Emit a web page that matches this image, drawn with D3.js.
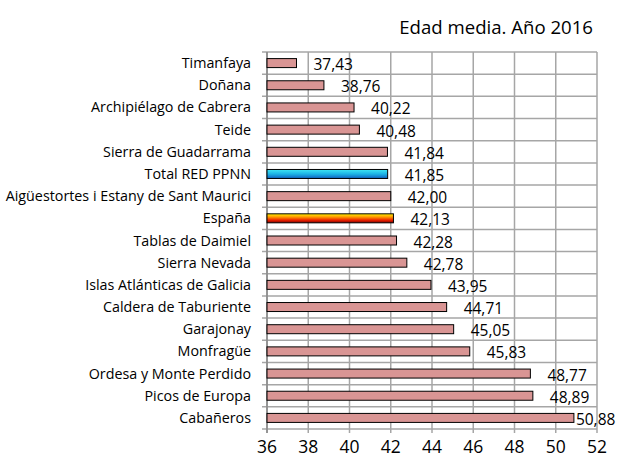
<!DOCTYPE html>
<html>
<head>
<meta charset="utf-8">
<script src="https://cdn.jsdelivr.net/npm/d3@7"></script>
<style>
  body { margin: 0; background: #fff; }
  svg { display: block; }
</style>
</head>
<body>
<div class="chart"></div>
<script>
let parques = [
  "Timanfaya", "Doñana", "Archipiélago de Cabrera", "Teide",
  "Sierra de Guadarrama", "Total RED PPNN", "Aigüestortes i Estany de Sant Maurici",
  "España", "Tablas de Daimiel", "Sierra Nevada", "Islas Atlánticas de Galicia",
  "Caldera de Taburiente", "Garajonay", "Monfragüe", "Ordesa y Monte Perdido",
  "Picos de Europa", "Cabañeros"
];
let edadMedia = [
  37.43, 38.76, 40.22, 40.48, 41.84, 41.85, 42.00, 42.13, 42.28, 42.78,
  43.95, 44.71, 45.05, 45.83, 48.77, 48.89, 50.88
];
let xTicks = [36, 38, 40, 42, 44, 46, 48, 50, 52];

let config = {
  width: 617,
  height: 460,
  left: 267,
  right: 597,
  top: 52,
  bottom: 429,
  chartRight: 611,
  font: '"Open Sans", "Noto Sans", sans-serif',
  barFill: '#d99594',
  gridColor: '#a6a6a6',
  barH: 9,
  labelGap: 17
};

let svg = d3.select('div.chart').append('svg')
  .attr('width', config.width)
  .attr('height', config.height);

let defs = svg.append('defs');

// degradados de las barras destacadas
let gradBlue = defs.append('linearGradient')
  .attr('id', 'gradBlue').attr('x1', 0).attr('y1', 0).attr('x2', 0).attr('y2', 1);
gradBlue.append('stop').attr('offset', '0%').attr('stop-color', '#40e6f2');
gradBlue.append('stop').attr('offset', '50%').attr('stop-color', '#1cb4e6');
gradBlue.append('stop').attr('offset', '100%').attr('stop-color', '#1060c0');

let gradFire = defs.append('linearGradient')
  .attr('id', 'gradFire').attr('x1', 0).attr('y1', 0).attr('x2', 0).attr('y2', 1);
gradFire.append('stop').attr('offset', '0%').attr('stop-color', '#fff200');
gradFire.append('stop').attr('offset', '35%').attr('stop-color', '#ff9900');
gradFire.append('stop').attr('offset', '70%').attr('stop-color', '#ee2200');
gradFire.append('stop').attr('offset', '100%').attr('stop-color', '#800000');

let x = d3.scaleLinear()
  .domain([36, 52])
  .range([config.left, config.right]);

let y = d3.scaleBand()
  .domain(parques)
  .range([config.top, config.bottom]);

let g = svg.append('g');

// rejilla vertical
g.selectAll('.vgrid')
  .data(xTicks)
  .enter().append('line')
  .attr('x1', d => x(d)).attr('x2', d => x(d))
  .attr('y1', config.top).attr('y2', config.bottom + 4)
  .attr('stroke', config.gridColor)
  .attr('stroke-width', 1.5);

// rejilla horizontal
let hLines = d3.range(parques.length + 1).map(i => config.top + i * y.step());
g.selectAll('.hgrid')
  .data(hLines)
  .enter().append('line')
  .attr('x1', config.left - 5).attr('x2', config.right)
  .attr('y1', d => d).attr('y2', d => d)
  .attr('stroke', config.gridColor)
  .attr('stroke-width', 1.5);

// eje izquierdo
g.append('line')
  .attr('x1', config.left).attr('x2', config.left)
  .attr('y1', config.top).attr('y2', config.bottom + 4)
  .attr('stroke', '#888').attr('stroke-width', 1.5);

g.selectAll('.bar')
  .data(edadMedia)
  .enter().append('rect')
  .attr('x', x(36))
  .attr('y', (d, i) => y(parques[i]) + y.bandwidth() / 2 - config.barH / 2)
  .attr('width', d => x(d) - x(36))
  .attr('height', config.barH)
  .attr('fill', (d, i) => {
    if (parques[i] === 'Total RED PPNN') return 'url(#gradBlue)';
    if (parques[i] === 'España') return 'url(#gradFire)';
    return config.barFill;
  })
  .attr('stroke', '#000')
  .attr('stroke-width', 1);

// etiquetas de valor (se ajustan para no salirse del gráfico)
let fmt = d => d.toFixed(2).replace('.', ',');
g.selectAll('.val')
  .data(edadMedia)
  .enter().append('text')
  .attr('y', (d, i) => y(parques[i]) + y.bandwidth() / 2 + 7)
  .attr('font-family', config.font)
  .attr('font-size', '15.5px')
  .attr('fill', '#000')
  .text(fmt)
  .attr('x', function(d) {
    let w = this.getComputedTextLength();
    let pos = Math.min(x(d) + config.labelGap, config.chartRight - w);
    return Math.max(pos, x(d) + 2);
  });

// categorías
g.selectAll('.cat')
  .data(parques)
  .enter().append('text')
  .attr('x', 251)
  .attr('y', d => y(d) + y.bandwidth() / 2 + 5)
  .attr('text-anchor', 'end')
  .attr('font-family', config.font)
  .attr('font-size', '14.3px')
  .attr('fill', '#000')
  .text(d => d);

// marcas del eje x
g.selectAll('.xlab')
  .data(xTicks)
  .enter().append('text')
  .attr('x', d => x(d))
  .attr('y', 453)
  .attr('text-anchor', 'middle')
  .attr('font-family', config.font)
  .attr('font-size', '17.5px')
  .attr('fill', '#000')
  .text(d => d);

// título
svg.append('text')
  .attr('x', 593)
  .attr('y', 34)
  .attr('text-anchor', 'end')
  .attr('font-family', config.font)
  .attr('font-size', '18.6px')
  .attr('fill', '#000')
  .text('Edad media. Año 2016');
</script>
</body>
</html>
